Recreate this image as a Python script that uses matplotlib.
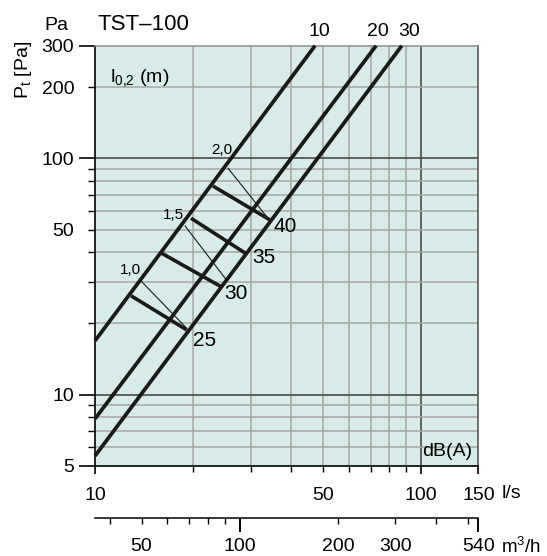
import matplotlib
matplotlib.use("Agg")
import matplotlib.pyplot as plt

plt.rcParams['font.family'] = ['Liberation Sans', 'DejaVu Sans']
plt.rcParams['mathtext.fontset'] = 'custom'
plt.rcParams['mathtext.rm'] = 'Liberation Sans'
plt.rcParams['mathtext.it'] = 'Liberation Sans'
plt.rcParams['mathtext.default'] = 'regular'

# axes ticks
flow_major = [10, 100, 150]
flow_major_labels = ['10', '100', '150']
flow_minor = [20, 30, 40, 50, 60, 70, 80, 90]
flow_minor_labels = ['', '', '', '50', '', '', '', '']
pa_major = [5, 10, 100, 300]
pa_major_labels = ['5', '10', '100', '300']
pa_minor = [6, 7, 8, 9, 20, 30, 40, 50, 60, 70, 80, 90, 200]
pa_minor_labels = ['', '', '', '', '', '', '', '50', '', '', '', '', '200']
m3h_major = [100, 540]
m3h_major_labels = ['100', '540']
m3h_minor = [40, 50, 60, 70, 80, 90, 200, 300, 400, 500]
m3h_minor_labels = ['', '50', '', '', '', '', '200', '300', '', '']

# grid lines
grid_q_light = [20, 30, 40, 50, 60, 70, 80, 90]
grid_q_dark = [100]
grid_p_light = [6, 7, 8, 9, 20, 30, 40, 50, 60, 70, 80, 90, 200]
grid_p_dark = [10, 100]

# size curves (l/s, Pa), start and end
curve_names = ['10', '20', '30']
curve_q = [(10, 47.3), (10, 72.8), (10, 87.3)]
curve_p = [(16.9, 300), (7.9, 300), (5.5, 300)]
curve_label_q = [48.7, 73.5, 91.6]

# dB(A) bars
db_names = ['25', '30', '35', '40']
db_q = [(12.9, 19.1), (15.9, 24.4), (19.7, 29.0), (23.0, 34.4)]
db_p = [(26.2, 18.8), (39.9, 28.6), (55.8, 39.6), (76.4, 54.9)]
db_label_q = [21.7, 27.1, 33.0, 38.3]
db_label_p = [16.9, 26.9, 37.9, 51.7]

# throw length l0,2 (m)
throw_names = ['1,0', '1,5', '2,0']
throw_q = [(13.9, 19.1), (18.9, 25.2), (25.6, 33.5)]
throw_p = [(30.1, 19.1), (51.7, 30.8), (90.8, 57.0)]
throw_label_q = [12.8, 17.4, 24.5]
throw_label_p = [33.7, 57.6, 108.6]

fs = 14

fig = plt.figure(figsize=(5.47, 5.56), dpi=100)
ax = fig.add_axes([0.1737, 0.1624, 0.701, 0.7554])
ax.set_facecolor('#d7ece8')
ax.set_xscale('log')
ax.set_yscale('log')
ax.set_xlim(10, 150)
ax.set_ylim(5, 300)

for q in grid_q_light:
    ax.axvline(q, color='#a8a8a8', lw=1.1, zorder=1)
for q in grid_q_dark:
    ax.axvline(q, color='#4a4a4a', lw=1.2, zorder=1)
for p in grid_p_light:
    ax.axhline(p, color='#a8a8a8', lw=1.1, zorder=1)
for p in grid_p_dark:
    ax.axhline(p, color='#4a4a4a', lw=1.2, zorder=1)

for name, q, p, lq in zip(curve_names, curve_q, curve_p, curve_label_q):
    ax.plot(q, p, color='#1a1a1a', lw=2.7, solid_capstyle='butt', zorder=3, clip_on=False)
    ax.annotate(name, (lq, 300), xytext=(0, 4), textcoords='offset points',
                ha='center', va='bottom', fontsize=fs, annotation_clip=False)

for name, q, p, lq, lp in zip(db_names, db_q, db_p, db_label_q, db_label_p):
    ax.plot(q, p, color='#1a1a1a', lw=2.6, solid_capstyle='butt', zorder=3)
    ax.text(lq, lp, name, ha='center', va='center', fontsize=15, zorder=4)

for name, q, p, lq, lp in zip(throw_names, throw_q, throw_p, throw_label_q, throw_label_p):
    ax.plot(q, p, color='#1a1a1a', lw=0.8, zorder=2)
    ax.text(lq, lp, name, ha='center', va='center', fontsize=11, zorder=4)

ax.xaxis.set_minor_locator(matplotlib.ticker.NullLocator())
ax.yaxis.set_minor_locator(matplotlib.ticker.NullLocator())
ax.set_xticks(flow_major, flow_major_labels)
ax.set_xticks(flow_minor, flow_minor_labels, minor=True)
ax.set_yticks(pa_major, pa_major_labels)
ax.set_yticks(pa_minor, pa_minor_labels, minor=True)
ax.tick_params(axis='x', which='major', length=6, width=1.2, pad=9, labelsize=fs)
ax.tick_params(axis='x', which='minor', length=4.5, width=1, pad=10.5, labelsize=fs)
ax.tick_params(axis='y', which='major', length=11.5, width=1.2, pad=3.5, labelsize=fs)
ax.tick_params(axis='y', which='minor', length=5, width=1, pad=10, labelsize=fs)

ax.spines['left'].set_linewidth(1.2)
ax.spines['bottom'].set_linewidth(1.2)
ax.spines['top'].set_color('#909090')
ax.spines['right'].set_color('#555555')
ax.spines['top'].set_linewidth(1.1)
ax.spines['right'].set_linewidth(1.2)

sec = ax.secondary_xaxis(-0.125, functions=(lambda q: q * 3.6, lambda m: m / 3.6))
sec.xaxis.set_minor_locator(matplotlib.ticker.NullLocator())
sec.set_xticks(m3h_major, m3h_major_labels)
sec.set_xticks(m3h_minor, m3h_minor_labels, minor=True)
sec.tick_params(axis='x', which='major', length=10, width=1.4, pad=4.2, labelsize=fs)
sec.tick_params(axis='x', which='minor', length=4, width=1, pad=10.2, labelsize=fs)
sec.spines['bottom'].set_linewidth(1.1)

ax.text(0.039, 0.914, 'l$_{0{,}2}$ (m)', transform=ax.transAxes, fontsize=fs, va='baseline')
ax.text(0.918, 0.035, 'dB(A)', transform=ax.transAxes, fontsize=fs, ha='center', va='center')

fig.text(97 / 547, 1 - 30.5 / 556, 'TST\u2013100', fontsize=16, va='baseline')
fig.text(56 / 547, 1 - 30.5 / 556, 'Pa', fontsize=fs, ha='center', va='baseline')
fig.text(24 / 547, 1 - 70 / 556, 'P$_t$ [Pa]', fontsize=fs, rotation=90, ha='center', va='center')
fig.text(502 / 547, 1 - 494 / 556, 'l/s', fontsize=fs, va='center')
fig.text(501 / 547, 1 - 547 / 556, 'm$^3$/h', fontsize=13.5, va='center')

fig.savefig('out.png', dpi=100)
